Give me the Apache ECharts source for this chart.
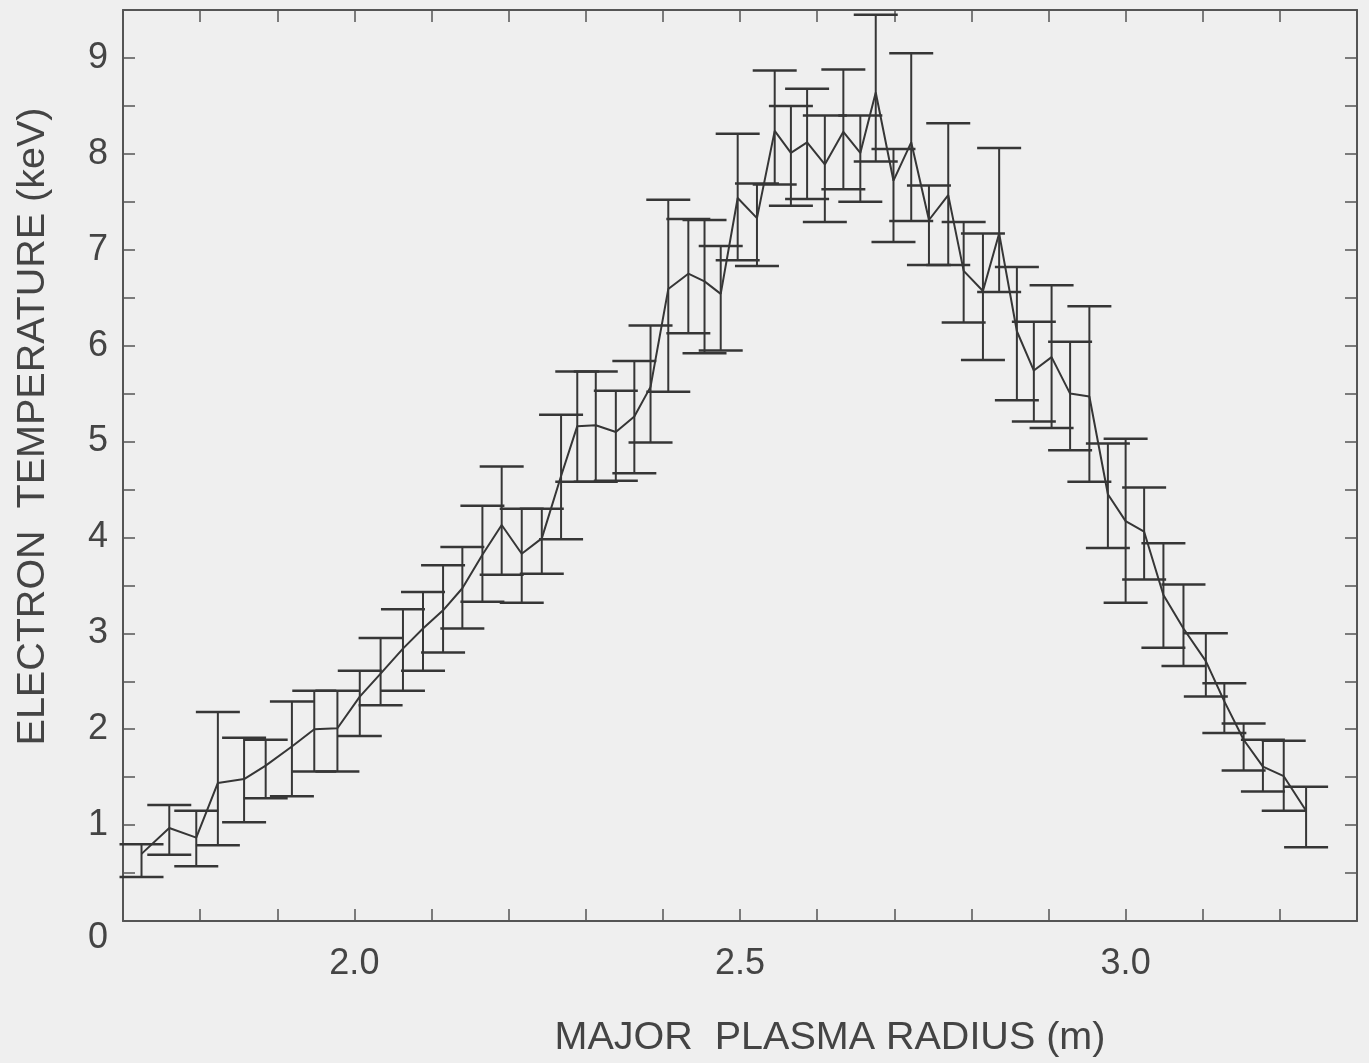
<!DOCTYPE html>
<html>
<head>
<meta charset="utf-8">
<script src="https://cdn.jsdelivr.net/npm/echarts@6/dist/echarts.min.js"></script>
<style>
  html, body { margin: 0; padding: 0; background: #efefef; }
  #chart { width: 1369px; height: 1063px; }
</style>
</head>
<body>
<div id="chart"></div>
<script>
// Major plasma radius (m)
const radius = [1.724, 1.760, 1.795, 1.823, 1.857, 1.885, 1.919, 1.948, 1.978, 2.007,
  2.034, 2.063, 2.089, 2.115, 2.140, 2.166, 2.191, 2.217, 2.243, 2.268,
  2.289, 2.313, 2.339, 2.363, 2.384, 2.407, 2.433, 2.454, 2.475, 2.497,
  2.522, 2.545, 2.566, 2.587, 2.610, 2.634, 2.656, 2.676, 2.699, 2.722,
  2.745, 2.770, 2.790, 2.815, 2.836, 2.859, 2.881, 2.904, 2.928, 2.953,
  2.977, 3.000, 3.024, 3.049, 3.075, 3.104, 3.128, 3.153, 3.178, 3.205, 3.234];
// Electron temperature (keV)
const temperature = [0.70, 0.97, 0.87, 1.44, 1.48, 1.62, 1.82, 2.00, 2.01, 2.34,
  2.58, 2.84, 3.05, 3.24, 3.47, 3.82, 4.13, 3.83, 3.99, 4.64,
  5.16, 5.17, 5.10, 5.26, 5.57, 6.59, 6.75, 6.67, 6.54, 7.54,
  7.33, 8.24, 8.01, 8.12, 7.89, 8.23, 8.01, 8.64, 7.72, 8.12,
  7.31, 7.57, 6.78, 6.57, 7.17, 6.15, 5.74, 5.88, 5.50, 5.47,
  4.45, 4.17, 4.06, 3.40, 3.05, 2.71, 2.29, 1.89, 1.61, 1.51, 1.15];
// Lower end of error bar (keV)
const errLow = [0.46, 0.69, 0.57, 0.79, 1.03, 1.28, 1.30, 1.56, 1.56, 1.93,
  2.25, 2.40, 2.61, 2.80, 3.05, 3.33, 3.61, 3.32, 3.62, 3.98,
  4.58, 4.58, 4.59, 4.67, 4.99, 5.52, 6.13, 5.92, 5.95, 6.89,
  6.83, 7.68, 7.46, 7.53, 7.29, 7.63, 7.50, 7.92, 7.08, 7.30,
  6.84, 6.84, 6.24, 5.85, 6.56, 5.43, 5.21, 5.14, 4.91, 4.58,
  3.89, 3.32, 3.56, 2.85, 2.66, 2.34, 1.96, 1.57, 1.35, 1.15, 0.77];
// Upper end of error bar (keV)
const errHigh = [0.80, 1.21, 1.15, 2.18, 1.91, 1.89, 2.29, 2.40, 2.40, 2.61,
  2.95, 3.25, 3.43, 3.71, 3.90, 4.33, 4.74, 4.30, 4.30, 5.28,
  5.73, 5.73, 5.53, 5.84, 6.21, 7.52, 7.32, 7.31, 7.04, 8.21,
  7.69, 8.87, 8.50, 8.68, 8.40, 8.88, 8.40, 9.45, 8.05, 9.05,
  7.67, 8.32, 7.29, 7.17, 8.06, 6.82, 6.25, 6.63, 6.04, 6.41,
  4.98, 5.03, 4.52, 3.94, 3.51, 3.00, 2.48, 2.06, 1.89, 1.88, 1.40];
const xLabels = ['2.0', '2.5', '3.0'];

const ink = '#363636';
const textColor = '#444';
const font = 'Liberation Sans, Arial, Helvetica, sans-serif';

const lineData = radius.map((r, i) => [r, temperature[i]]);
const barData = radius.map((r, i) => [r, errLow[i], errHigh[i]]);

const chart = echarts.init(document.getElementById('chart'));

const baseX = {
  type: 'value', min: 1.7, max: 3.3, interval: 0.1,
  splitLine: { show: false },
  axisLine: { show: true, onZero: false, lineStyle: { color: '#555', width: 2 } },
  axisTick: { show: true, inside: true, length: 12, lineStyle: { color: '#555', width: 1.5 } }
};
const baseY = {
  type: 'value', min: 0, max: 9.5, interval: 0.5,
  splitLine: { show: false },
  axisLine: { show: true, onZero: false, lineStyle: { color: '#555', width: 2 } },
  axisTick: { show: true, inside: true, length: 12, lineStyle: { color: '#555', width: 1.5 } }
};

chart.setOption({
  backgroundColor: '#efefef',
  animation: false,
  grid: { left: 123, right: 12, top: 10, bottom: 140 },
  xAxis: [
    Object.assign({}, baseX, {
      position: 'bottom',
      name: 'MAJOR  PLASMA RADIUS (m)',
      nameLocation: 'middle',
      nameGap: 97,
      nameTextStyle: { fontFamily: font, fontSize: 39.5, color: textColor, padding: [0, 0, 0, 180] },
      axisLabel: {
        show: true, margin: 25, fontFamily: font, fontSize: 36, color: textColor,
        formatter: v => {
          const s = v.toFixed(1);
          return xLabels.indexOf(s) >= 0 ? s : '';
        }
      }
    }),
    Object.assign({}, baseX, { position: 'top', axisLabel: { show: false } })
  ],
  yAxis: [
    Object.assign({}, baseY, {
      position: 'left',
      name: 'ELECTRON  TEMPERATURE (keV)',
      nameLocation: 'middle',
      nameGap: 70,
      nameRotate: 90,
      nameTextStyle: { fontFamily: font, fontSize: 39.5, color: textColor, padding: [0, 0, 0, 78] },
      axisLabel: {
        show: true, margin: 15, fontFamily: font, fontSize: 36, color: textColor,
        formatter: v => {
          if (Math.abs(v - Math.round(v)) > 1e-6) return '';
          return v === 0 ? '{z|0}' : String(Math.round(v));
        },
        rich: { z: { fontFamily: font, fontSize: 36, color: textColor, padding: [34, 0, 0, 0] } }
      }
    }),
    Object.assign({}, baseY, { position: 'right', axisLabel: { show: false } })
  ],
  series: [
    {
      type: 'custom',
      xAxisIndex: 0, yAxisIndex: 0,
      data: barData,
      encode: { x: 0, y: [1, 2] },
      renderItem: (params, api) => {
        const x = api.value(0);
        const pLo = api.coord([x, api.value(1)]);
        const pHi = api.coord([x, api.value(2)]);
        const hw = 22;
        const stem = { stroke: ink, lineWidth: 2 };
        const cap = { stroke: ink, lineWidth: 2.5 };
        return {
          type: 'group',
          children: [
            { type: 'line', shape: { x1: pLo[0], y1: pLo[1], x2: pHi[0], y2: pHi[1] }, style: stem },
            { type: 'line', shape: { x1: pLo[0] - hw, y1: pLo[1], x2: pLo[0] + hw, y2: pLo[1] }, style: cap },
            { type: 'line', shape: { x1: pHi[0] - hw, y1: pHi[1], x2: pHi[0] + hw, y2: pHi[1] }, style: cap }
          ]
        };
      },
      z: 2
    },
    {
      type: 'line',
      xAxisIndex: 0, yAxisIndex: 0,
      data: lineData,
      symbol: 'none',
      lineStyle: { color: ink, width: 2 },
      z: 3
    }
  ]
});
</script>
</body>
</html>
